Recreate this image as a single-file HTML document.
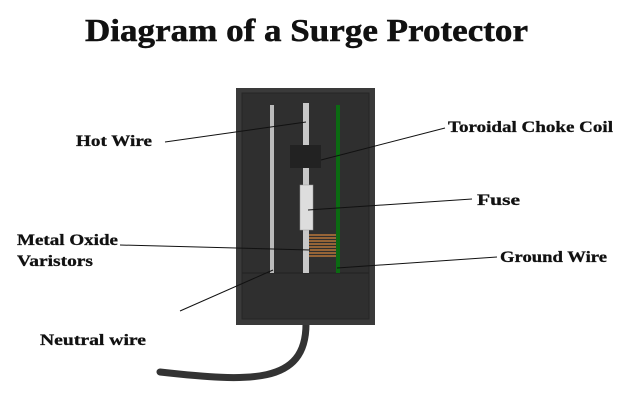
<!DOCTYPE html>
<html><head><meta charset="utf-8"><style>body{margin:0;background:#fff}</style></head><body>
<svg width="620" height="400" xmlns="http://www.w3.org/2000/svg" font-family="Liberation Serif, serif">
<text x="85" y="41" font-size="32" font-weight="bold" textLength="443" lengthAdjust="spacingAndGlyphs" fill="#111" stroke="#111" stroke-width="0.5">Diagram of a Surge Protector</text>
<path d="M306,324 C306,385 250,382 160,372" stroke="#333" stroke-width="7" fill="none" stroke-linecap="round"/>
<rect x="236" y="88" width="139" height="237" fill="#3a3a3a"/>
<rect x="242" y="93" width="127" height="226" fill="#2f2f2f" stroke="#262626" stroke-width="1"/>
<line x1="242" y1="273" x2="369" y2="273" stroke="#222" stroke-width="1"/>
<rect x="270" y="105" width="4" height="168" fill="#bbb"/>
<rect x="303" y="103" width="6" height="170" fill="#c8c8c8"/>
<rect x="336" y="105" width="4" height="168" fill="#0b6b12"/>
<rect x="290" y="145" width="31" height="23" fill="#222"/>
<rect x="300" y="185" width="13" height="45" fill="#ddd" stroke="#999" stroke-width="0.5"/>
<g stroke="#b8763a" stroke-width="1.6">
<line x1="309" y1="235" x2="336" y2="235"/><line x1="309" y1="238" x2="336" y2="238"/><line x1="309" y1="241" x2="336" y2="241"/><line x1="309" y1="244" x2="336" y2="244"/><line x1="309" y1="247" x2="336" y2="247"/><line x1="309" y1="250" x2="336" y2="250"/><line x1="309" y1="253" x2="336" y2="253"/><line x1="309" y1="256" x2="336" y2="256"/>
</g>
<g stroke="#111" stroke-width="1">
<line x1="165" y1="142" x2="306" y2="122"/>
<line x1="321" y1="160" x2="445" y2="128"/>
<line x1="308" y1="210" x2="472" y2="199"/>
<line x1="120" y1="245" x2="310" y2="250"/>
<line x1="337" y1="268" x2="497" y2="257"/>
<line x1="180" y1="311" x2="273" y2="270"/>
</g>
<g font-size="16" font-weight="bold" fill="#111" stroke="#111" stroke-width="0.3">
<text x="76" y="146" textLength="76" lengthAdjust="spacingAndGlyphs">Hot Wire</text>
<text x="448" y="132" textLength="165" lengthAdjust="spacingAndGlyphs">Toroidal Choke Coil</text>
<text x="477" y="205" textLength="43" lengthAdjust="spacingAndGlyphs">Fuse</text>
<text x="17" y="245" textLength="101" lengthAdjust="spacingAndGlyphs">Metal Oxide</text>
<text x="17" y="266" textLength="76" lengthAdjust="spacingAndGlyphs">Varistors</text>
<text x="500" y="262" textLength="107" lengthAdjust="spacingAndGlyphs">Ground Wire</text>
<text x="40" y="345" textLength="106" lengthAdjust="spacingAndGlyphs">Neutral wire</text>
</g>
</svg>
</body></html>
